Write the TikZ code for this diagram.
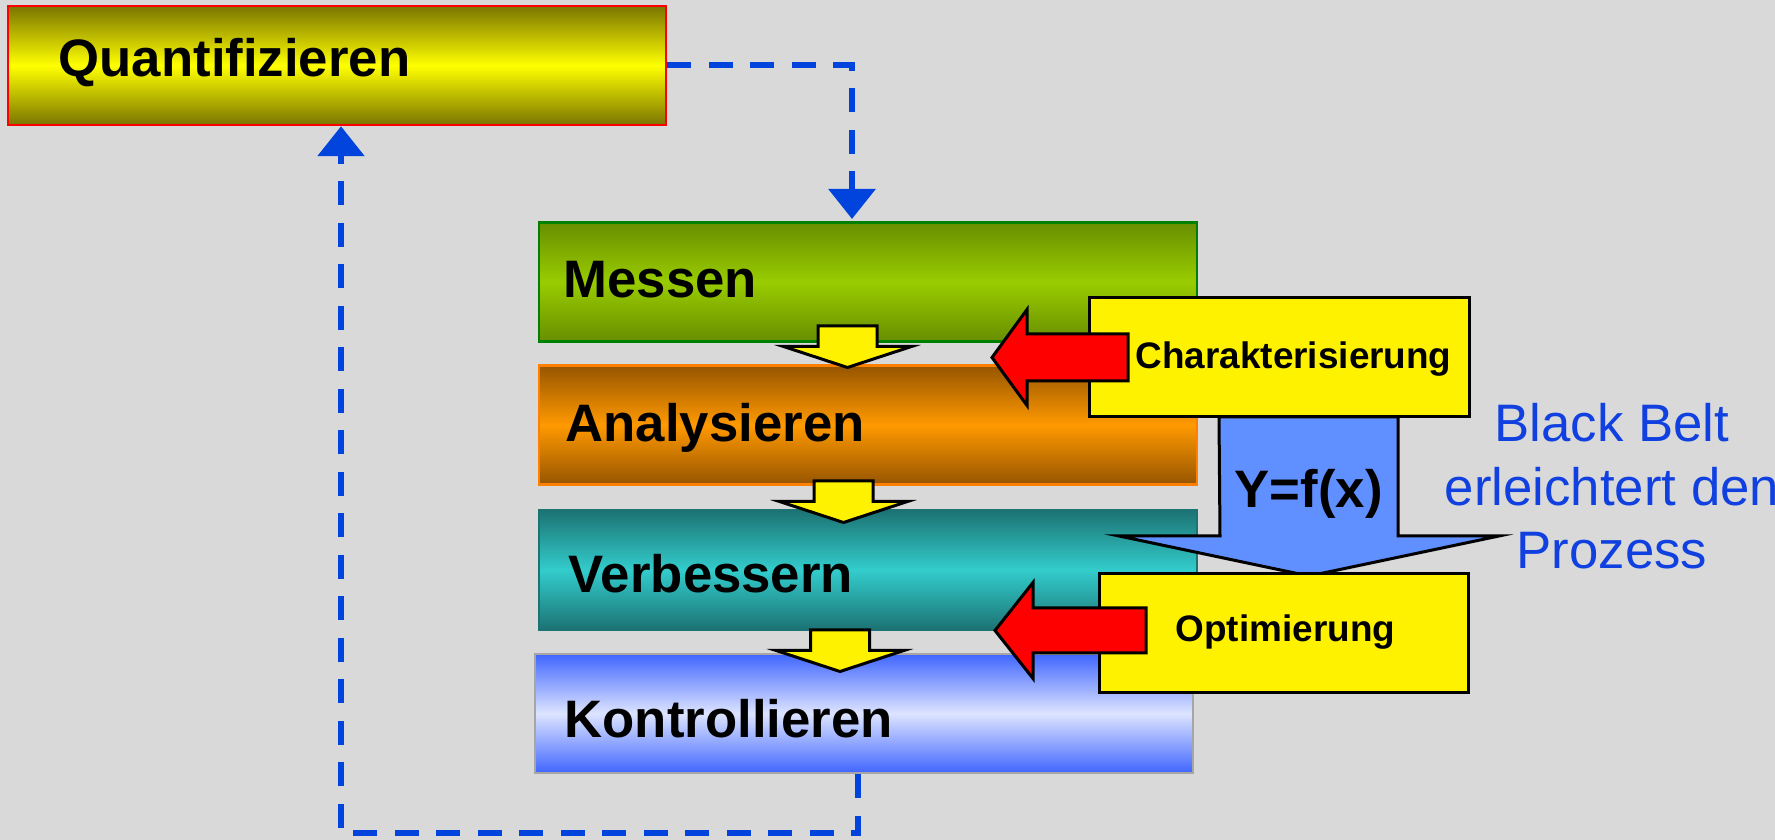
\documentclass[tikz,border=0pt]{standalone}
\usepackage{fontspec}
\setmainfont{Liberation Sans}
\usetikzlibrary{arrows.meta}

\definecolor{bggray}{RGB}{217,217,217}
\definecolor{dashblue}{RGB}{0,68,221}
\definecolor{beltblue}{RGB}{16,64,224}
\definecolor{fxblue}{RGB}{96,144,255}
\definecolor{quantdark}{RGB}{122,117,0}
\definecolor{messendark}{RGB}{104,142,0}
\definecolor{messenlight}{RGB}{153,204,0}
\definecolor{analysdark}{RGB}{150,85,0}
\definecolor{analyslight}{RGB}{255,153,0}
\definecolor{verbdark}{RGB}{28,115,115}
\definecolor{verblight}{RGB}{51,204,204}
\definecolor{kontrdark}{RGB}{64,102,255}
\definecolor{kontrlight}{RGB}{221,228,255}

\tikzset{
  stage/.style={draw, line width=0.25mm, minimum width=6.58cm, minimum height=1.19cm, inner sep=0pt},
  stagetxt/.style={anchor=base west, inner sep=0pt, font=\fontsize{15}{18}\selectfont\bfseries},
  infobox/.style={draw=black, line width=0.3mm, fill=yellow, inner sep=0pt, minimum height=1.19cm},
  infotxt/.style={anchor=base west, inner sep=0pt, font=\fontsize{10.5}{12.6}\selectfont\bfseries},
  belttxt/.style={anchor=base, inner sep=0pt, text=beltblue, font=\fontsize{15}{18}\selectfont},
  yarrow/.style={draw=black, line width=0.3mm, fill=yellow},
  rarrow/.style={draw=black, line width=0.3mm, fill=red},
  fxarrow/.style={draw=black, line width=0.3mm, fill=fxblue},
  flowline/.style={draw=dashblue, line width=0.6mm, dash pattern=on 2.4mm off 1.75mm, -{Triangle[width=4.6mm,length=3mm]}},
}

\begin{document}
\begin{tikzpicture}

    \useasboundingbox (0,0) rectangle (17.75,8.4);
    \fill[bggray] (0,0) rectangle (17.75,8.4);

    % dashed loop
    \node[stage, draw=red, top color=quantdark, bottom color=quantdark, middle color=yellow] (quant) at (3.37,7.745) {};
    \coordinate (intop) at (8.52,6.21);
    \coordinate (low) at (3.41,0.07);

    % the four stages
    \node[stage, draw=green!50!black, top color=messendark, bottom color=messendark, middle color=messenlight] (messen) at (8.68,5.58) {};
    \node[stage, draw=orange, top color=analysdark, bottom color=analysdark, middle color=analyslight] (analys) at (8.68,4.15) {};
    \node[stage, draw=verbdark, top color=verbdark, bottom color=verbdark, middle color=verblight] (verb) at (8.68,2.70) {};
    \node[stage, draw=gray!70, top color=kontrdark, bottom color=kontrdark, middle color=kontrlight] (kontr) at (8.64,1.265) {};

    \draw[flowline] (quant.east) -| (intop);
    \draw[flowline] ([xshift=-0.6mm]kontr.south) |- (low) -- (low |- quant.south);

    % yellow arrows between the stages
    \coordinate (y1) at (8.475,5.14);
    \coordinate (y2) at (8.435,3.59);
    \coordinate (y3) at (8.40,2.10);
    \foreach \p in {y1,y2,y3}
        \draw[yarrow] ([xshift=-2.95mm]\p) -- ++(0.59,0) -- ++(0,-0.205) -- ++(0.345,0) -- ++(-0.64,-0.21) -- ++(-0.64,0.21) -- ++(0.345,0) -- cycle;

    % Y=f(x)
    \coordinate (fxtop) at (13.085,4.23);
    \draw[fxarrow] ([xshift=-8.95mm]fxtop) -- ++(1.79,0) -- ++(0,-1.19) -- ++(1.01,0) -- ++(-1.90,-0.40) -- ++(-1.90,0.40) -- ++(1.01,0) -- cycle;

    \node[infobox, minimum width=3.80cm] (charak) at (12.79,4.825) {};
    \node[infobox, minimum width=3.69cm] (optim) at (12.835,2.07) {};

    % red arrows
    \coordinate (r1) at (11.28,4.825);
    \coordinate (r2) at (11.46,2.095);
    \foreach \p/\s/\h/\w in {r1/1.01/0.35/0.235, r2/1.13/0.38/0.225}
        \draw[rarrow] (\p) ++(0,\w) -- ++(-\s,0) -- ++(0,0.48-\w) -- ++(-\h,-0.48) -- ++(\h,-0.48) -- ++(0,0.48-\w) -- ++(\s,0) -- cycle;

    % texts
    \node[stagetxt] (quanttxt) at (0.58,7.63) {Quantifizieren};
    \node[stagetxt] (messentxt) at (5.63,5.42) {Messen};
    \node[stagetxt] (analystxt) at (5.65,3.98) {Analysieren};
    \node[stagetxt] (verbtxt) at (5.68,2.47) {Verbessern};
    \node[stagetxt] (kontrtxt) at (5.64,1.02) {Kontrollieren};
    \node[infotxt] (charaktxt) at (11.35,4.71) {Charakterisierung};
    \node[infotxt] (optimtxt) at (11.75,1.98) {Optimierung};
    \node[stagetxt] (fxtxt) at (12.34,3.32) {Y=f(x)};
    \node[belttxt] (belt1) at (16.12,3.98) {Black Belt};
    \node[belttxt] (belt2) at (16.12,3.345) {erleichtert den};
    \node[belttxt] (belt3) at (16.12,2.71) {Prozess};

\end{tikzpicture}
\end{document}
